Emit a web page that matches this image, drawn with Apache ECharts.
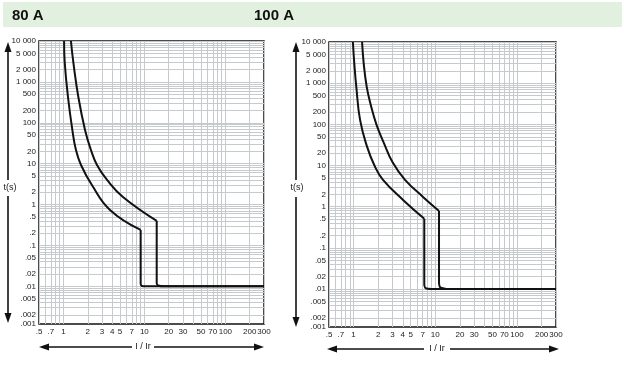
<!DOCTYPE html>
<html>
<head>
<meta charset="utf-8">
<script src="https://cdn.jsdelivr.net/npm/echarts@6/dist/echarts.min.js"></script>
<style>
  html, body { margin: 0; padding: 0; background: #fff; }
  #chart { width: 624px; height: 377px; }
</style>
</head>
<body>
<div id="chart"></div>
<script>
const titles = ['80 A', '100 A'];

const xTickValues = [0.5, 0.7, 1, 2, 3, 4, 5, 7, 10, 20, 30, 50, 70, 100, 200, 300];
const xTickLabels = ['.5', '.7', '1', '2', '3', '4', '5', '7', '10', '20', '30', '50', '70', '100', '200', '300'];
const yTickValues = [10000, 5000, 2000, 1000, 500, 200, 100, 50, 20, 10, 5, 2, 1, 0.5, 0.2, 0.1, 0.05, 0.02, 0.01, 0.005, 0.002, 0.001];
const yTickLabels = ['10 000', '5 000', '2 000', '1 000', '500', '200', '100', '50', '20', '10', '5', '2', '1', '.5', '.2', '.1', '.05', '.02', '.01', '.005', '.002', '.001'];

// 80 A : I/Ir and t(s)
const lowI80  = [1.02, 1.04, 1.14, 1.29, 1.43, 1.65, 2.25, 3.76, 9.0, 9.0, 9.3, 10.8, 300];
const lowT80  = [10000, 2900, 427, 67, 21.6, 9.3, 3.0, 0.74, 0.24, 0.0115, 0.0102, 0.01, 0.01];
const highI80 = [1.24, 1.33, 1.53, 1.85, 2.19, 2.6, 3.46, 5.44, 14.2, 14.2, 14.7, 18, 300];
const highT80 = [10000, 2900, 427, 67, 21.6, 9.3, 4.0, 1.53, 0.40, 0.012, 0.0105, 0.01, 0.01];

// 100 A
const lowI100  = [0.98, 1.02, 1.08, 1.2, 1.45, 1.8, 2.29, 4.03, 7.33, 7.33, 7.6, 9.0, 300];
const lowT100  = [10000, 3000, 800, 128, 30, 10, 4.5, 1.46, 0.51, 0.013, 0.0105, 0.01, 0.01];
const highI100 = [1.27, 1.33, 1.45, 1.62, 1.9, 2.35, 3.0, 4.26, 7.07, 11.1, 11.1, 11.5, 14.3, 300];
const highT100 = [10000, 3000, 800, 300, 100, 35, 12, 4.5, 1.73, 0.79, 0.015, 0.011, 0.01, 0.01];

const X_MIN = 0.5, X_MAX = 300;
const Y_MIN = 0.0012, Y_MAX = 10000;   // scan squeezes .001 onto the bottom edge

const grids = [
  { left: 39, top: 41, width: 225, height: 283 },
  { left: 329, top: 42, width: 227, height: 285 }
];

const curves = [
  [[lowI80, lowT80], [highI80, highT80]],
  [[lowI100, lowT100], [highI100, highT100]]
];

const lg = Math.log10;
const gridColor = '#c6cacd';
const labelFont = { fontFamily: 'Liberation Sans', fontSize: 8, color: '#222' };

// grid lines at every 1..9 multiple of each decade
function decadeLines(min, max) {
  const out = [];
  for (let e = -4; e <= 5; e++) {
    for (let m = 1; m <= 9; m++) {
      const v = m * Math.pow(10, e);
      if (v >= min * 0.999 && v <= max * 1.001) out.push(lg(v));
    }
  }
  return out;
}

function labelFor(values, labels) {
  const logs = values.map(lg);
  return function (v) {
    let best = 0;
    for (let i = 1; i < logs.length; i++) {
      if (Math.abs(logs[i] - v) < Math.abs(logs[best] - v)) best = i;
    }
    return labels[best];
  };
}

const xAxis = [], yAxis = [], series = [];
grids.forEach(function (g, gi) {
  xAxis.push({ type: 'log', gridIndex: gi, min: X_MIN, max: X_MAX, show: false, position: 'top' });
  xAxis.push({
    type: 'value', gridIndex: gi, position: 'bottom',
    min: lg(X_MIN), max: lg(X_MAX),
    axisLine: { show: false },
    axisTick: { show: false, customValues: decadeLines(X_MIN, X_MAX) },
    splitLine: { show: true, lineStyle: { color: gridColor, width: 1 } },
    axisLabel: Object.assign({
      customValues: xTickValues.map(lg),
      formatter: labelFor(xTickValues, xTickLabels),
      margin: 4
    }, labelFont)
  });
  yAxis.push({ type: 'log', gridIndex: gi, min: Y_MIN, max: Y_MAX, show: false, position: 'right' });
  yAxis.push({
    type: 'value', gridIndex: gi, position: 'left',
    min: lg(Y_MIN), max: lg(Y_MAX),
    axisLine: { show: false },
    axisTick: { show: false, customValues: decadeLines(Y_MIN, Y_MAX) },
    splitLine: { show: true, lineStyle: { color: gridColor, width: 1 } },
    axisLabel: Object.assign({
      customValues: yTickValues.map(function (v) { return Math.max(lg(v), lg(Y_MIN)); }),
      formatter: labelFor(yTickValues, yTickLabels),
      margin: 3
    }, labelFont)
  });

  curves[gi].forEach(function (c) {
    const pts = c[0].map(function (v, i) { return [v, c[1][i]]; });
    // thermal part is a smooth curve, the magnetic step has a sharp corner
    let k = 0;
    while (k < pts.length - 1 && pts[k + 1][0] !== pts[k][0]) k++;
    [[pts.slice(0, k + 1), 0.45], [pts.slice(k), 0.2]].forEach(function (part) {
      series.push({
        type: 'line',
        xAxisIndex: gi * 2,
        yAxisIndex: gi * 2,
        data: part[0],
        showSymbol: false,
        smooth: part[1],
        lineStyle: { color: '#111', width: 2 },
        silent: true
      });
    });
  });
});

function arrow(x1, y1, x2, y2) {
  const a = Math.atan2(y2 - y1, x2 - x1);
  const L = 10, W = 3.5;
  const bx = x2 - L * Math.cos(a), by = y2 - L * Math.sin(a);
  return [
    { type: 'line', shape: { x1: x1, y1: y1, x2: bx, y2: by }, style: { stroke: '#111', lineWidth: 1.6 } },
    { type: 'polygon', shape: { points: [[x2, y2], [bx - W * Math.sin(a), by + W * Math.cos(a)], [bx + W * Math.sin(a), by - W * Math.cos(a)]] }, style: { fill: '#111' } }
  ];
}

function txt(x, y, s) {
  return { type: 'text', x: x, y: y, style: { text: s, fontFamily: 'Liberation Sans', fontSize: 9, fill: '#222', align: 'center', verticalAlign: 'middle' } };
}

const graphics = [
  { type: 'rect', shape: { x: 3, y: 2, width: 619, height: 25 }, style: { fill: '#e2f0df' }, z: -10 }
]
  .concat(arrow(8, 180, 8, 42), arrow(8, 196, 8, 323), [txt(10, 188, 't(s)')])
  .concat(arrow(296, 180, 296, 42), arrow(296, 197, 296, 327), [txt(297, 188, 't(s)')])
  .concat(arrow(132, 347, 39, 347), arrow(154, 347, 264, 347), [txt(143, 347, 'I / Ir')])
  .concat(arrow(424, 349, 327, 349), arrow(450, 349, 559, 349), [txt(437, 349, 'I / Ir')]);

const chart = echarts.init(document.getElementById('chart'), null, { renderer: 'canvas' });
chart.setOption({
  animation: false,
  backgroundColor: '#fff',
  title: [
    { text: titles[0], left: 12, top: 8, padding: 0, textStyle: { fontFamily: 'Liberation Sans', fontSize: 15, fontWeight: 'bold', color: '#111' } },
    { text: titles[1], left: 254, top: 8, padding: 0, textStyle: { fontFamily: 'Liberation Sans', fontSize: 15, fontWeight: 'bold', color: '#111' } }
  ],
  grid: grids.map(function (g) {
    return Object.assign({ show: true, borderColor: '#111', borderWidth: 1.5, backgroundColor: 'transparent', containLabel: false }, g);
  }),
  xAxis: xAxis,
  yAxis: yAxis,
  series: series,
  graphic: { elements: graphics }
});
</script>
</body>
</html>
